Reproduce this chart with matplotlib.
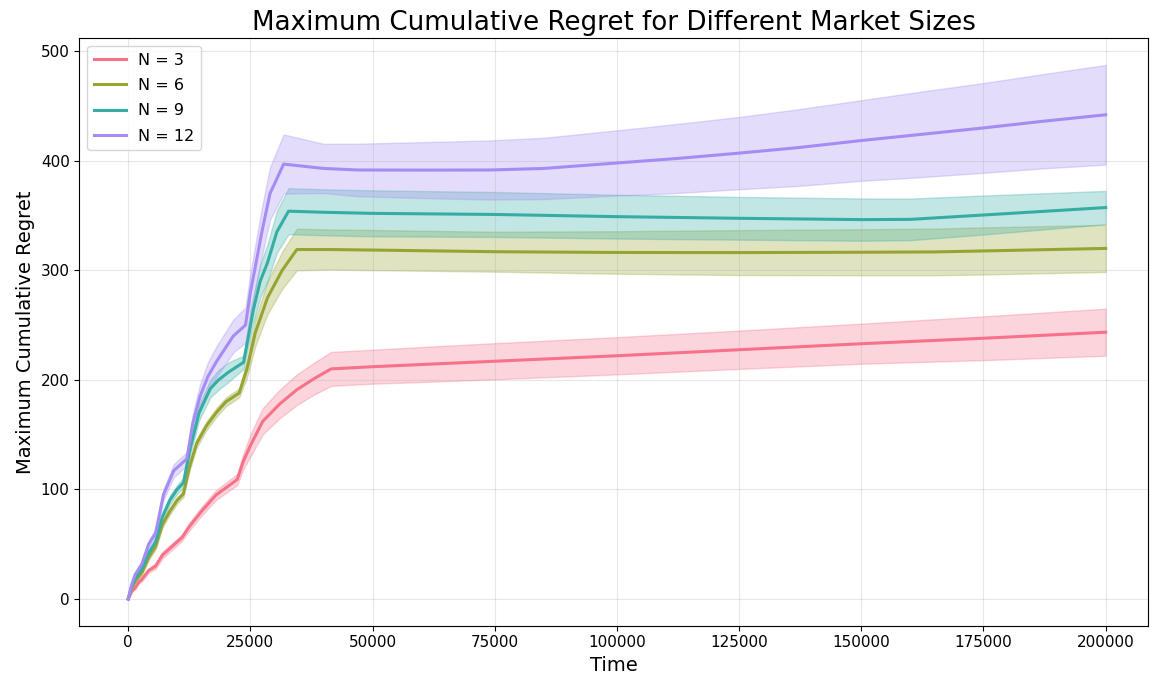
import numpy as np
import matplotlib
matplotlib.use("Agg")
import matplotlib.pyplot as plt
import seaborn as sns

# N = 3
t3 = [0, 700, 1400, 2100, 2800, 4200, 5600, 7000, 8500, 11000, 12500, 15000, 18000, 22300,
      23500, 25000, 27500, 31000, 34500, 38000, 41500, 50000, 60000, 75000, 100000, 125000,
      150000, 175000, 200000]
m3 = [0, 7, 10, 15, 18, 26, 30, 40, 46, 56, 66, 80, 95, 109,
      125, 140, 162, 178, 191, 201, 210, 212, 214, 217, 222, 227.5,
      233, 238, 243.5]
s3 = [0, 1, 1.5, 1.5, 2, 2, 2.5, 3, 3, 3, 3.5, 4, 4.5, 5,
      7, 10, 12, 13, 14, 14.5, 15.5, 15.5, 16, 16.5, 17, 17.5,
      18.3, 20, 21.5]

# N = 6
t6 = [0, 700, 1400, 2100, 2800, 4200, 5600, 7000, 8500, 10000, 11300, 12500, 14000, 16000,
      18000, 20000, 22700, 24300, 26000, 28500, 31500, 34500, 41000, 50000, 75000, 100000,
      125000, 150000, 165000, 175000, 200000]
m6 = [0, 10, 16, 20, 24, 38, 48, 68, 80, 90, 96, 120, 142, 158,
      170, 180, 188, 210, 243, 275, 300, 319, 319, 318.5, 317, 316.3,
      316.2, 316.5, 316.8, 317.7, 320]
s6 = [0, 1, 1.5, 2, 2, 2.5, 3, 3, 3, 3, 3, 3.5, 4, 4,
      4, 4, 4, 8, 12, 15, 17, 19, 18.3, 18.3, 18.2, 19.4,
      20.5, 21, 21.3, 21.5, 21.5]

# N = 9
t9 = [0, 700, 1400, 2100, 2800, 4200, 5600, 7000, 8500, 10000, 11300, 12700, 14500, 16800,
      18500, 20500, 23600, 25600, 27000, 28500, 30400, 32800, 40000, 50000, 75000, 100000,
      125000, 150000, 160000, 175000, 200000]
m9 = [0, 11, 18, 23, 27, 42, 52, 75, 90, 100, 106, 138, 170, 192,
      200, 207, 216, 264, 290, 307, 335, 354, 353, 352, 351, 349,
      347.5, 346.3, 346.5, 350.5, 357.3]
s9 = [0, 1, 1.5, 2, 2, 2.5, 3, 3.5, 4, 4, 4.5, 6, 7, 8,
      9, 9, 6, 12, 15, 17, 19, 21, 21, 21, 20.5, 20,
      19.5, 19.3, 19, 17.8, 15.2]

# N = 12
t12 = [0, 700, 1400, 2100, 2800, 4200, 5600, 7200, 9300, 12000, 13200, 14700, 16300, 18100,
       21500, 24000, 25000, 26000, 27300, 29000, 31800, 40000, 47000, 60000, 74000, 85000,
       100000, 112000, 125000, 137000, 150000, 162000, 175000, 187000, 200000]
m12 = [0, 13, 22, 27, 32, 50, 60, 95, 117, 128, 160, 185, 203, 217,
       240, 250, 280, 303, 334, 370, 397, 393, 391.6, 391.5, 391.6, 393,
       398, 402, 407, 412, 418.5, 424, 430, 436, 442]
s12 = [0, 1, 2, 2, 3, 3.5, 4, 5, 6, 6, 9, 11, 13, 14,
       15, 16, 18, 20, 22, 24, 27, 22.5, 24, 25.5, 27, 28,
       29.8, 31.5, 33, 35, 36.8, 39, 41, 43, 45.5]

labels = ["N = 3", "N = 6", "N = 9", "N = 12"]
series = [(t3, m3, s3), (t6, m6, s6), (t9, m9, s9), (t12, m12, s12)]
colors = sns.color_palette("husl", 4)

fig, ax = plt.subplots(figsize=(11.5, 6.83), dpi=100)

for (t, m, s), lab, c in zip(series, labels, colors):
    t = np.array(t)
    m = np.array(m)
    s = np.array(s)
    ax.plot(t, m, color=c, lw=2.2, label=lab)
    ax.fill_between(t, m - s, m + s, color=c, alpha=0.3)

ax.set_title("Maximum Cumulative Regret for Different Market Sizes", fontsize=18.8)
ax.set_xlabel("Time", fontsize=14)
ax.set_ylabel("Maximum Cumulative Regret", fontsize=14)
ax.set_xlim(-10000, 208600)
ax.tick_params(labelsize=11)
ax.grid(alpha=0.3)
ax.legend(loc="upper left", fontsize=11.5, labelspacing=0.65)
fig.subplots_adjust(left=0.069, right=0.998, top=0.944, bottom=0.084)
fig.savefig("out.png")
